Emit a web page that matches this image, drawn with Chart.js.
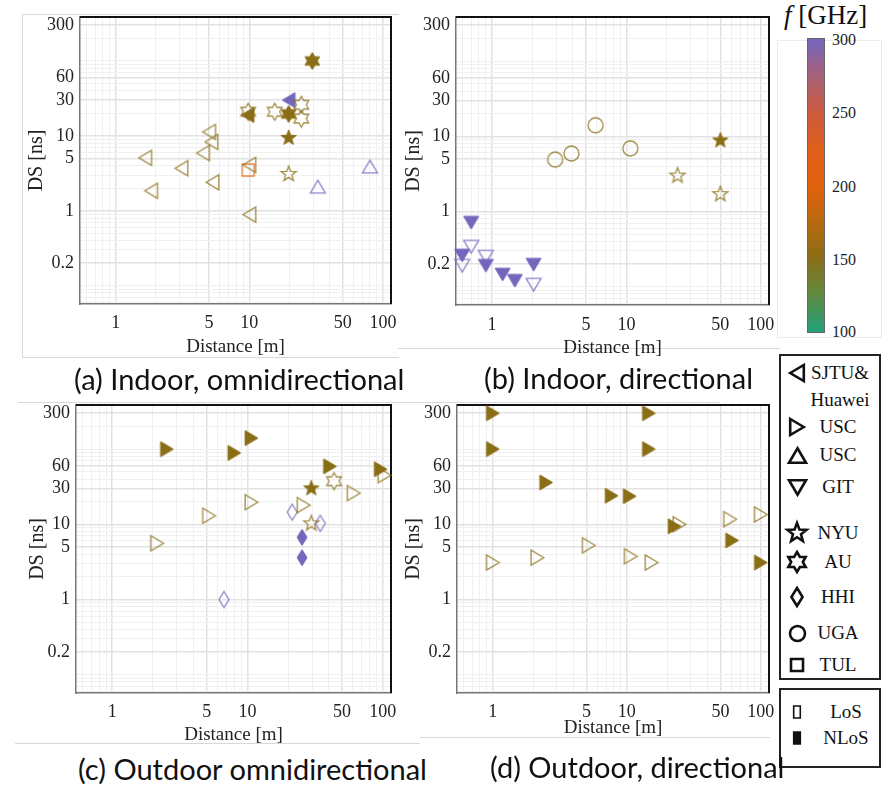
<!DOCTYPE html>
<html><head><meta charset="utf-8">
<script src="https://cdn.jsdelivr.net/npm/chart.js@4.4.1/dist/chart.umd.min.js"></script>
<style>
html,body{margin:0;padding:0;background:#fff}
#root{position:relative;width:892px;height:785px;overflow:hidden;font-family:'Liberation Serif','Times New Roman',serif;color:#111}
#root canvas{position:absolute}
.fr{position:absolute;border:0 solid #d8d8d8}
.cap{position:absolute;font-family:Lato,'Open Sans',sans-serif;font-size:29px;line-height:34px;white-space:nowrap;color:#111;z-index:5}
.lg{position:absolute;font-size:19px;line-height:22px;text-align:center;width:84px;white-space:nowrap;color:#111}
.cb{position:absolute;font-size:16px;line-height:18px;color:#222}
.box{position:absolute;border:2px solid #222;box-sizing:border-box}
</style></head><body><div id="root">
<div class="fr" style="left:22px;top:14px;width:376px;height:342px;border-width:1px 0 1px 1px"></div>
<div class="fr" style="left:398px;top:348px;width:382px;height:0;border-top-width:1px"></div>
<div class="fr" style="left:18px;top:402px;width:702px;height:0;border-top-width:1px"></div>
<div class="fr" style="left:15px;top:743px;width:405px;height:0;border-top-width:1px"></div>
<div class="fr" style="left:420px;top:737px;width:350px;height:0;border-top-width:1px"></div>
<div class="fr" style="left:777px;top:40px;width:103px;height:296px;border-width:1px;border-color:#ececec"></div>

<canvas id="pa" width="400" height="360" style="left:0;top:0"></canvas>
<canvas id="pb" width="380" height="360" style="left:398px;top:0"></canvas>
<canvas id="pc" width="400" height="360" style="left:0;top:390px"></canvas>
<canvas id="pd" width="378" height="360" style="left:400px;top:390px"></canvas>

<div class="cap" style="left:74px;top:362px">(a) Indoor, omnidirectional</div>
<div class="cap" style="left:484px;top:361px">(b) Indoor, directional</div>
<div class="cap" style="left:78px;top:752px">(c) Outdoor omnidirectional</div>
<div class="cap" style="left:490px;top:750px">(d) Outdoor, directional</div>

<div id="cbar" style="position:absolute;left:807px;top:38px;width:18px;height:295px;border:1px solid #666;box-sizing:border-box"></div>
<div style="position:absolute;left:784px;top:0;font-size:27px;line-height:30px;white-space:nowrap;background:#fff"><i>f</i> [GHz]</div>
<div class="cb" style="left:832px;top:31px">300</div>
<div class="cb" style="left:832px;top:104px">250</div>
<div class="cb" style="left:832px;top:178px">200</div>
<div class="cb" style="left:832px;top:251px">150</div>
<div class="cb" style="left:832px;top:323px">100</div>

<div class="box" style="left:779px;top:354px;width:102px;height:326px;background:#fff"></div>
<div class="lg" style="left:798px;top:362px">SJTU&amp;</div>
<div class="lg" style="left:798px;top:389px">Huawei</div>
<div class="lg" style="left:796px;top:416px">USC</div>
<div class="lg" style="left:796px;top:444px">USC</div>
<div class="lg" style="left:796px;top:476px">GIT</div>
<div class="lg" style="left:796px;top:522px">NYU</div>
<div class="lg" style="left:796px;top:551px">AU</div>
<div class="lg" style="left:796px;top:586px">HHI</div>
<div class="lg" style="left:796px;top:622px">UGA</div>
<div class="lg" style="left:796px;top:654px">TUL</div>
<div class="box" style="left:779px;top:688px;width:102px;height:80px;background:#fff"></div>
<div class="lg" style="left:804px;top:701px">LoS</div>
<div class="lg" style="left:804px;top:727px">NLoS</div>
</div>
<script>
// ---------------- data: [distance (m), delay spread (ns)] ----------------
const X_TICKS = [0.6,0.7,0.8,0.9,1,2,3,4,5,6,7,8,9,10,20,30,40,50,60,70,80,90,100];
const X_LABELS = [1,5,10,50,100];
const Y_TICKS = [0.06,0.07,0.08,0.09,0.1,0.2,0.3,0.4,0.5,0.6,0.7,0.8,0.9,1,2,3,4,5,6,7,8,9,10,20,30,40,50,60,70,80,90,100,200,300];
const Y_LABELS = [0.2,1,5,10,30,60,300];
const CBAR_TICKS = [100,150,200,250,300];

const F_OLIVE = 150;   // ~140 GHz measurements
const F_PURPLE = 300;  // ~300 GHz measurements
const F_TUL = 205;

// (a) Indoor, omnidirectional
const A_SJTU_LOS = [[1.66,5.1],[1.84,1.85],[3.1,3.7],[4.5,5.9],[5.0,11.3],[5.2,8.3],[5.3,2.4],[10,4.1],[10,0.89]];
const A_SJTU_NLOS = [[9.7,19]];
const A_SJTU_NLOS_300 = [[19.7,30]];
const A_USC_UP_LOS = [[32.6,2.1],[80,3.9]];
const A_TUL_LOS = [[9.8,3.5]];
const A_AU_LOS = [[9.8,21],[15.5,21],[24.5,26],[24.5,17]];
const A_AU_NLOS = [[29.6,100],[19.7,19.6]];
const A_NYU_NLOS = [[19.7,9.4]];
const A_NYU_LOS = [[19.7,3.1]];

// (b) Indoor, directional
const B_UGA_LOS = [[2.95,4.9],[3.9,5.9],[5.9,14],[10.7,6.9]];
const B_NYU_LOS = [[24,3.0],[50,1.7]];
const B_NYU_NLOS = [[50,8.8]];
const B_GIT_LOS = [[0.70,0.34],[0.60,0.19],[0.90,0.25],[2.04,0.106]];
const B_GIT_NLOS = [[0.70,0.71],[0.60,0.26],[0.90,0.19],[1.2,0.145],[1.48,0.12],[2.04,0.196]];

// (c) Outdoor omnidirectional
const C_USC_LOS = [[2.15,5.6],[5.2,13],[10.7,19.7],[26,18],[61,26],[103,45]];
const C_USC_NLOS = [[2.54,100],[8.0,89],[10.7,140],[40.7,59],[96.5,54]];
const C_NYU_NLOS = [[29.6,30]];
const C_NYU_LOS = [[29.6,10.3]];
const C_AU_LOS = [[43.6,37.5]];
const C_HHI_LOS = [[6.7,1.0],[21.4,14.5],[34.5,10.3]];
const C_HHI_NLOS = [[25.3,6.7],[25.3,3.6]];

// (d) Outdoor, directional
const D_USC_LOS = [[1,3.1],[2.15,3.6],[5.2,5.25],[10.7,3.75],[15.3,3.1],[24.7,10],[59,11.7],[100,13.5]];
const D_USC_NLOS = [[1,300],[1,100],[14.6,300],[14.6,100],[2.5,36],[7.7,24],[10.5,23.6],[22.7,9.4],[61,6.1],[100,3.1]];

// ---------------- colour map (frequency -> colour) ----------------
const CMAP = [[100,'#22a07c'],[125,'#5f8a40'],[150,'#8a6e16'],[175,'#b8680f'],[200,'#e2620c'],[225,'#e05f1c'],[250,'#cc5a3e'],[275,'#a66078'],[300,'#7267bd']];
function hex2rgb(h){return [1,3,5].map(i=>parseInt(h.substr(i,2),16));}
function freqColor(f){
  for(let i=0;i<CMAP.length-1;i++){
    const [f0,c0]=CMAP[i],[f1,c1]=CMAP[i+1];
    if(f>=f0&&f<=f1){const t=(f-f0)/(f1-f0);const a=hex2rgb(c0),b=hex2rgb(c1);
      return 'rgb('+a.map((v,k)=>Math.round(v+(b[k]-v)*t)).join(',')+')';}
  }
  return CMAP[CMAP.length-1][1];
}
document.getElementById('cbar').style.background='linear-gradient(to top,'+CMAP.map(([f,c])=>c+' '+((f-100)/2)+'%').join(',')+')';

// ---------------- marker shapes ----------------
function marker(shape,color,filled,size,lw,alpha){
  const S=Math.ceil(size+8);
  const c=document.createElement('canvas');c.width=S;c.height=S;
  const g=c.getContext('2d');const cx=S/2,cy=S/2,r=size/2;
  const poly=p=>{g.moveTo(p[0][0],p[0][1]);for(let i=1;i<p.length;i++)g.lineTo(p[i][0],p[i][1]);g.closePath();};
  g.beginPath();
  if(shape==='left')poly([[cx-0.85*r,cy],[cx+0.85*r,cy-r],[cx+0.85*r,cy+r]]);
  else if(shape==='right')poly([[cx+0.85*r,cy],[cx-0.85*r,cy-r],[cx-0.85*r,cy+r]]);
  else if(shape==='up')poly([[cx,cy-0.85*r],[cx+r,cy+0.85*r],[cx-r,cy+0.85*r]]);
  else if(shape==='down')poly([[cx,cy+0.85*r],[cx+r,cy-0.85*r],[cx-r,cy-0.85*r]]);
  else if(shape==='diamond')poly([[cx,cy-r],[cx+0.62*r,cy],[cx,cy+r],[cx-0.62*r,cy]]);
  else if(shape==='square')poly([[cx-r,cy-r],[cx+r,cy-r],[cx+r,cy+r],[cx-r,cy+r]]);
  else if(shape==='lrect')poly([[cx-0.55*r,cy-r],[cx+0.55*r,cy-r],[cx+0.55*r,cy+r],[cx-0.55*r,cy+r]]);
  else if(shape==='circle')g.arc(cx,cy,r,0,Math.PI*2);
  else if(shape==='star5'){const p=[];for(let i=0;i<10;i++){const a=-Math.PI/2+i*Math.PI/5,rr=i%2?r*0.42:r;p.push([cx+rr*Math.cos(a),cy+rr*Math.sin(a)]);}poly(p);}
  else if(shape==='hex'){const p=[];for(let i=0;i<12;i++){const a=-Math.PI/2+i*Math.PI/6,rr=i%2?r*0.58:r;p.push([cx+rr*Math.cos(a),cy+rr*Math.sin(a)]);}poly(p);}
  g.globalAlpha=alpha;
  if(filled){g.fillStyle=color;g.fill();}
  g.strokeStyle=color;g.lineWidth=lw;g.lineJoin='miter';g.stroke();
  return c;
}

// ---------------- chart helpers ----------------
const SERIF="'Liberation Serif','Times New Roman',serif";
const near=(v,arr)=>arr.some(a=>Math.abs(a-v)<1e-9*Math.max(1,a));
const frameBorder={id:'frameBorder',beforeDatasetsDraw(chart){
  const {ctx,chartArea:{left,top,right,bottom}}=chart;
  ctx.save();ctx.strokeStyle='#111';ctx.lineWidth=2;ctx.beginPath();
  ctx.moveTo(left,top);ctx.lineTo(right,top);ctx.lineTo(right,bottom);ctx.stroke();ctx.restore();
}};

function panel(id,series,g){
  const datasets=series.map(s=>({
    data:s.pts.map(p=>({x:p[0],y:p[1]})),
    pointStyle:marker(s.shape,freqColor(s.f),s.filled,s.size||15,s.filled?1:1.3,s.filled?1:0.8),
    pointRadius:8,pointHoverRadius:8,showLine:false,clip:false
  }));
  new Chart(document.getElementById(id),{
    type:'scatter',data:{datasets},plugins:[frameBorder],
    options:{
      responsive:false,animation:false,devicePixelRatio:1,events:[],
      layout:{padding:{left:0,top:g.top,right:g.right,bottom:0}},
      plugins:{legend:{display:false},tooltip:{enabled:false}},
      scales:{
        x:{type:'logarithmic',min:0.54,max:115,
          afterBuildTicks:s=>{s.ticks=X_TICKS.map(v=>({value:v}));},
          afterFit:s=>{s.height=g.xh;s.paddingLeft=0;s.paddingRight=0;},
          ticks:{autoSkip:false,maxRotation:0,padding:g.xtp,color:'#222',font:{family:SERIF,size:18},
            callback:v=>near(v,X_LABELS)?String(v):''},
          grid:{drawTicks:false,color:c=>near(c.tick.value,X_LABELS)?'#e2e2e2':'#f0f0f0',lineWidth:c=>near(c.tick.value,X_LABELS)?1.5:1},
          border:{color:'#777',width:1.5},
          title:{display:true,text:'Distance [m]',color:'#222',font:{family:SERIF,size:19},padding:{top:0,bottom:g.xtt}}
        },
        y:{type:'logarithmic',min:0.057,max:386,
          afterBuildTicks:s=>{s.ticks=Y_TICKS.map(v=>({value:v}));},
          afterFit:s=>{s.width=g.yw;s.paddingTop=0;s.paddingBottom=0;},
          ticks:{autoSkip:false,padding:6,color:'#222',font:{family:SERIF,size:18},
            callback:v=>near(v,Y_LABELS)?String(v):''},
          grid:{drawTicks:false,color:c=>near(c.tick.value,Y_LABELS)?'#e2e2e2':'#f0f0f0',lineWidth:c=>near(c.tick.value,Y_LABELS)?1.5:1},
          border:{color:'#777',width:1.5},
          title:{display:true,text:'DS [ns]',color:'#222',font:{family:SERIF,size:20},padding:{top:g.ytt,bottom:0}}
        }
      }
    }
  });
}

panel('pa',[
  {pts:A_SJTU_LOS,shape:'left',filled:false,f:F_OLIVE},
  {pts:A_USC_UP_LOS,shape:'up',filled:false,f:F_PURPLE},
  {pts:A_TUL_LOS,shape:'square',filled:false,f:F_TUL,size:12},
  {pts:A_AU_LOS,shape:'hex',filled:false,f:F_OLIVE,size:17},
  {pts:A_NYU_LOS,shape:'star5',filled:false,f:F_OLIVE,size:16},
  {pts:A_SJTU_NLOS,shape:'left',filled:true,f:F_OLIVE},
  {pts:A_SJTU_NLOS_300,shape:'left',filled:true,f:F_PURPLE},
  {pts:A_AU_NLOS,shape:'hex',filled:true,f:F_OLIVE,size:17},
  {pts:A_NYU_NLOS,shape:'star5',filled:true,f:F_OLIVE,size:16}
],{top:17,right:3,xh:56,yw:80,xtp:8,xtt:2,ytt:25});

panel('pb',[
  {pts:B_UGA_LOS,shape:'circle',filled:false,f:F_OLIVE,size:15},
  {pts:B_NYU_LOS,shape:'star5',filled:false,f:F_OLIVE,size:16},
  {pts:B_NYU_NLOS,shape:'star5',filled:true,f:F_OLIVE,size:16},
  {pts:B_GIT_LOS,shape:'down',filled:false,f:F_PURPLE},
  {pts:B_GIT_NLOS,shape:'down',filled:true,f:F_PURPLE}
],{top:17,right:6,xh:55,yw:58,xtp:9,xtt:1,ytt:4});

panel('pc',[
  {pts:C_USC_LOS,shape:'right',filled:false,f:F_OLIVE},
  {pts:C_HHI_LOS,shape:'diamond',filled:false,f:F_PURPLE,size:16},
  {pts:C_AU_LOS,shape:'hex',filled:false,f:F_OLIVE,size:17},
  {pts:C_NYU_LOS,shape:'star5',filled:false,f:F_OLIVE,size:16},
  {pts:C_USC_NLOS,shape:'right',filled:true,f:F_OLIVE},
  {pts:C_NYU_NLOS,shape:'star5',filled:true,f:F_OLIVE,size:16},
  {pts:C_HHI_NLOS,shape:'diamond',filled:true,f:F_PURPLE,size:16}
],{top:15,right:5,xh:57,yw:76,xtp:8,xtt:4,ytt:26});

panel('pd',[
  {pts:D_USC_LOS,shape:'right',filled:false,f:F_OLIVE},
  {pts:D_USC_NLOS,shape:'right',filled:true,f:F_OLIVE}
],{top:15,right:8,xh:57,yw:57,xtp:8,xtt:11,ytt:2});

// ---------------- legend markers ----------------
const root=document.getElementById('root');
function place(cv,x,y){cv.style.left=(x-cv.width/2)+'px';cv.style.top=(y-cv.height/2)+'px';cv.style.zIndex=3;root.appendChild(cv);}
const LEG=[['left',373,16],['right',427,16],['up',455,17],['down',487,17],['star5',533,20],['hex',562,20],['diamond',597,18],['circle',633,15],['square',665,12]];
LEG.forEach(([s,y,sz])=>place(marker(s,'#111',false,sz,2.6,1),797,y));
place(marker('lrect','#111',false,12,1.6,1),797,712);
place(marker('lrect','#111',true,12,1.6,1),797,738);
</script>
</body></html>
